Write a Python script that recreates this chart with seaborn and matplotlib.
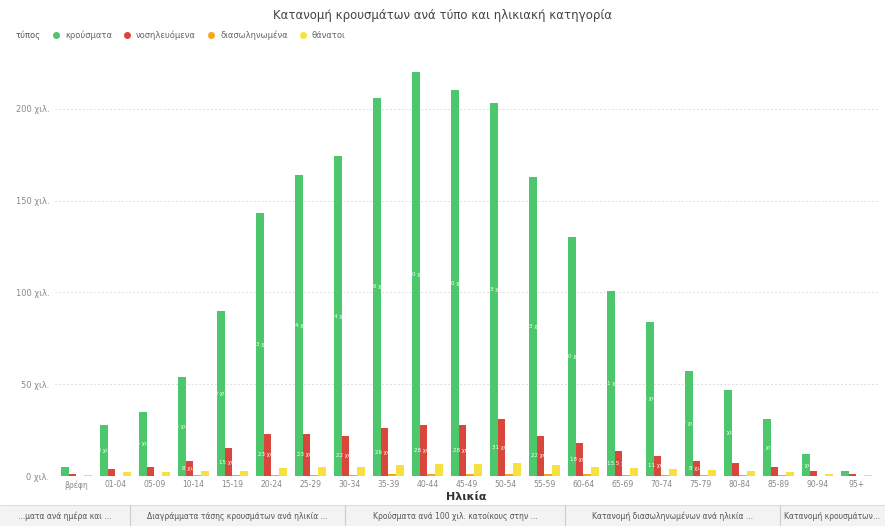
import matplotlib
matplotlib.use("Agg")
import matplotlib.pyplot as plt
import seaborn as sns
import pandas as pd
import numpy as np

age_groups = ["βρέφη", "01-04", "05-09", "10-14", "15-19", "20-24", "25-29", "30-34",
              "35-39", "40-44", "45-49", "50-54", "55-59", "60-64", "65-69", "70-74",
              "75-79", "80-84", "85-89", "90-94", "95+"]
types = ["κρούσματα", "νοσηλευόμενα", "διασωληνωμένα", "θάνατοι"]
cases = [5, 28, 35, 54, 90, 143, 164, 174, 206, 220, 210, 203, 163, 130, 101, 84, 57, 47, 31, 12, 3]
hospitalized = [1, 4, 5, 8, 15, 23, 23, 22, 26, 28, 28, 31, 22, 18, 13.5, 11, 8, 7, 5, 2.5, 1]
intubated = [0.1, 0.2, 0.2, 0.3, 0.4, 0.6, 0.7, 0.8, 1.0, 1.2, 1.2, 1.3, 1.1, 1.0, 0.8, 0.7, 0.5, 0.4, 0.3, 0.1, 0.05]
deaths = [0.5, 2, 2, 2.5, 3, 4.5, 5, 5, 6, 6.5, 6.5, 7, 6, 5, 4.5, 4, 3.5, 3, 2, 1, 0.3]
yticks = [0, 50, 100, 150, 200]
colors = ["#4CC76B", "#D9463B", "#F3A81C", "#F8E041"]

rows = []
for t, vals in zip(types, [cases, hospitalized, intubated, deaths]):
    for a, v in zip(age_groups, vals):
        rows.append({"Ηλικία": a, "τύπος": t, "τιμή": v})
df = pd.DataFrame(rows)

sns.set_theme(style="white")
plt.rcParams["font.family"] = ["DejaVu Sans"]

fig = plt.figure(figsize=(8.85, 5.26), dpi=100)
ax = fig.add_axes([0.062, 0.095, 0.93, 0.81])
sns.barplot(data=df, x="Ηλικία", y="τιμή", hue="τύπος", order=age_groups,
            hue_order=types, palette=colors, width=0.8, ax=ax, legend=False,
            saturation=1, linewidth=0, edgecolor="none")

ax.set_ylim(0, 232)
ax.set_xlim(-0.55, len(age_groups) - 0.45)
ax.set_yticks(yticks)
ax.set_yticklabels([f"{v} χιλ." for v in yticks], color="#888888", fontsize=6)
ax.tick_params(axis="x", labelsize=5.5, colors="#888888", length=0, pad=3)
ax.tick_params(axis="y", length=0, pad=4)
ax.grid(axis="y", linestyle=(0, (2, 2)), color="#DDDDDD", linewidth=0.7)
ax.set_axisbelow(True)
for s in ax.spines.values():
    s.set_visible(False)
ax.set_ylabel("")
ax.set_xlabel("Ηλικία", fontsize=8, fontweight="bold", color="#333333", labelpad=2)

# data labels inside the green and red bars
for cont, vals in zip(ax.containers[:2], [cases, hospitalized]):
    for bar, v in zip(cont, vals):
        if v >= 8:
            ax.text(bar.get_x() + bar.get_width() / 2, v / 2, f"{v:g} χιλ.",
                    ha="center", va="center", fontsize=4, color="white")

fig.text(0.5, 0.97, "Κατανομή κρουσμάτων ανά τύπο και ηλικιακή κατηγορία",
         ha="center", va="center", fontsize=8.5, color="#444444")

# legend row
fig.text(0.018, 0.933, "τύπος", ha="left", va="center", fontsize=6, color="#555555")
handles = [plt.Line2D([0], [0], marker="o", linestyle="", markersize=4,
                      markerfacecolor=c, markeredgecolor=c) for c in colors]
fig.legend(handles, types, loc="center left", bbox_to_anchor=(0.045, 0.933),
           ncol=4, frameon=False, fontsize=6, handletextpad=0.1,
           columnspacing=0.8, labelcolor="#666666")

# bottom page tabs
tab_ax = fig.add_axes([0, 0, 1, 0.04])
tab_ax.set_xlim(0, 885)
tab_ax.set_ylim(0, 1)
tab_ax.set_facecolor("#F3F3F3")
tab_ax.set_xticks([])
tab_ax.set_yticks([])
for s in tab_ax.spines.values():
    s.set_visible(False)
tab_ax.axhline(1, color="#DDDDDD", linewidth=0.8)
tabs = ["...ματα ανά ημέρα και ...", "Διαγράμματα τάσης κρουσμάτων ανά ηλικία ...",
        "Κρούσματα ανά 100 χιλ. κατοίκους στην ...", "Κατανομή διασωληνωμένων ανά ηλικία ...",
        "Κατανομή κρουσμάτων..."]
seps = [0, 130, 345, 565, 780, 885]
for i, t in enumerate(tabs):
    tab_ax.text((seps[i] + seps[i + 1]) / 2, 0.45, t, ha="center", va="center",
                fontsize=5.5, color="#555555")
for x in seps[1:-1]:
    tab_ax.axvline(x, color="#CCCCCC", linewidth=0.8)

fig.savefig("out.png", dpi=100, facecolor="white")
